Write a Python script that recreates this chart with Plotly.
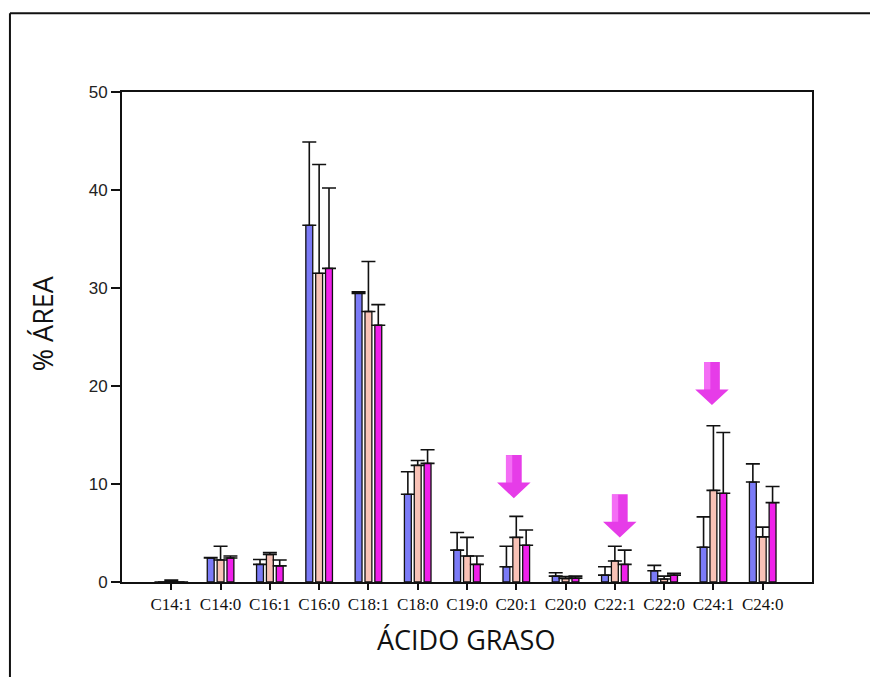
import plotly.graph_objects as go

categories = ["C14:1", "C14:0", "C16:1", "C16:0", "C18:1", "C18:0", "C19:0",
              "C20:1", "C20:0", "C22:1", "C22:0", "C24:1", "C24:0"]

blue_vals = [0.0, 2.45, 1.8, 36.4, 29.45, 8.95, 3.25, 1.55, 0.6, 0.7, 1.15, 3.55, 10.2]
blue_err = [0.0, 0.05, 0.5, 8.5, 0.15, 2.3, 1.8, 2.1, 0.35, 0.85, 0.55, 3.1, 1.85]
pink_vals = [0.05, 2.25, 2.8, 31.5, 27.6, 11.9, 2.65, 4.55, 0.35, 2.15, 0.3, 9.35, 4.6]
pink_err = [0.15, 1.4, 0.2, 11.1, 5.1, 0.5, 1.9, 2.15, 0.2, 1.5, 0.3, 6.6, 1.0]
mag_vals = [0.0, 2.45, 1.65, 32.0, 26.2, 12.1, 1.8, 3.75, 0.4, 1.8, 0.7, 9.05, 8.1]
mag_err = [0.0, 0.2, 0.6, 8.2, 2.1, 1.4, 0.85, 1.55, 0.2, 1.45, 0.2, 6.2, 1.65]

y_ticks = [0, 10, 20, 30, 40, 50]

# highlighted categories (arrow tip heights in % area)
arrow_cats = ["C20:1", "C22:1", "C24:1"]
arrow_tips = [8.55, 4.55, 18.05]
arrow_dx = [-0.05, 0.1, -0.03]

colors = ["#7B7BF7", "#F9C2B6", "#F020EA"]

fig = go.Figure()
for vals, errs, col in [(blue_vals, blue_err, colors[0]),
                        (pink_vals, pink_err, colors[1]),
                        (mag_vals, mag_err, colors[2])]:
    fig.add_trace(go.Bar(
        x=list(range(len(categories))), y=vals,
        marker=dict(color=col, line=dict(color="#111111", width=1.3)),
        error_y=dict(type="data", array=errs, arrayminus=[0] * len(errs),
                     symmetric=False, color="#111111", thickness=1.6, width=7),
        showlegend=False,
    ))

shapes = []
# arrows
for cat, tip, dx in zip(arrow_cats, arrow_tips, arrow_dx):
    cx = categories.index(cat) + dx
    sw = 0.16    # shaft half width
    hw = 0.34    # head half width
    hh = 1.6     # head height
    tot = 4.4    # total height
    top = tip + tot
    neck = tip + hh
    path = (f"M {cx - sw} {top} L {cx + sw} {top} L {cx + sw} {neck} "
            f"L {cx + hw} {neck} L {cx} {tip} L {cx - hw} {neck} "
            f"L {cx - sw} {neck} Z")
    shapes.append(dict(type="path", path=path, xref="x", yref="y",
                       fillcolor="#E63CE8", line=dict(width=0), layer="above"))
    hl = (f"M {cx - sw} {top} L {cx - sw*0.2} {top} L {cx - sw*0.2} {neck} "
          f"L {cx - sw} {neck} Z")
    shapes.append(dict(type="path", path=hl, xref="x", yref="y",
                       fillcolor="rgba(255,150,255,0.55)", line=dict(width=0),
                       layer="above"))

# outer frame (only left and top edges visible)
fx = (2 - 114) / 689.7
fy = (574 - 5) / 490.3
shapes.append(dict(type="line", xref="paper", yref="paper", x0=fx, x1=fx,
                   y0=fy, y1=-0.4, line=dict(color="#111111", width=2)))
shapes.append(dict(type="line", xref="paper", yref="paper", x0=fx, x1=1.3,
                   y0=fy, y1=fy, line=dict(color="#111111", width=2)))

annotations = [
    dict(text="ÁCIDO GRASO", xref="paper", yref="paper", x=0.4988, y=-0.118,
         xanchor="center", yanchor="middle", showarrow=False,
         font=dict(family="Open Sans", size=27, color="#111111")),
    dict(text="% ÁREA", xref="paper", yref="paper", x=-0.116, y=0.528,
         xanchor="center", yanchor="middle", showarrow=False, textangle=-90,
         font=dict(family="Open Sans", size=27, color="#111111")),
]

fig.update_layout(
    width=878, height=677,
    margin=dict(l=114, r=74, t=84, b=103),
    paper_bgcolor="white", plot_bgcolor="white",
    barmode="group", bargap=0.4, bargroupgap=0.3,
    shapes=shapes, annotations=annotations,
    xaxis=dict(
        tickmode="array", tickvals=list(range(len(categories))), ticktext=categories,
        range=[-1, 13], ticks="outside", ticklen=6, tickwidth=1.5, tickcolor="#111111",
        showline=True, linecolor="#111111", linewidth=1.8, mirror=True,
        showgrid=False, zeroline=False,
        tickfont=dict(family="Liberation Serif", size=17, color="#111111"),
    ),
    yaxis=dict(
        range=[0, 50], tickvals=y_ticks, ticks="outside", ticklen=9, tickwidth=1.5,
        tickcolor="#111111", showline=True, linecolor="#111111", linewidth=1.8,
        mirror=True, showgrid=False, zeroline=False,
        tickfont=dict(family="Liberation Sans", size=17, color="#222222"),
    ),
)

fig.write_html("out.html")
